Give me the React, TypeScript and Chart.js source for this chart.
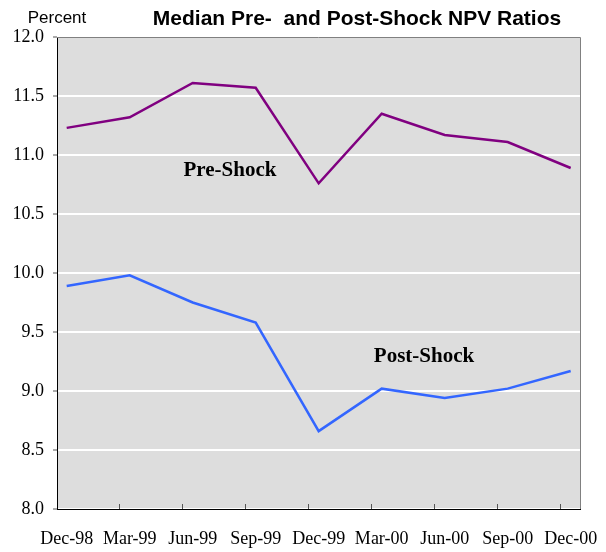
import React, { useEffect, useRef } from "react";
import { Chart, registerables } from "chart.js";

Chart.register(...registerables);

const categories = ["Dec-98", "Mar-99", "Jun-99", "Sep-99", "Dec-99", "Mar-00", "Jun-00", "Sep-00", "Dec-00"];
const preShock = [11.23, 11.32, 11.61, 11.57, 10.76, 11.35, 11.17, 11.11, 10.89];
const postShock = [9.89, 9.98, 9.75, 9.58, 8.66, 9.02, 8.94, 9.02, 9.17];
const yTicks = [8.0, 8.5, 9.0, 9.5, 10.0, 10.5, 11.0, 11.5, 12.0];

const W = 606;
const H = 552;

const decorPlugin = {
  id: "decor",
  beforeDraw(chart: any) {
    const { ctx, chartArea } = chart;
    ctx.save();
    ctx.fillStyle = "#DDDDDD";
    ctx.fillRect(chartArea.left, chartArea.top, chartArea.right - chartArea.left, chartArea.bottom - chartArea.top);
    ctx.restore();
  },
  afterDraw(chart: any) {
    const { ctx, chartArea, scales } = chart;
    const x = scales.x;
    ctx.save();
    ctx.strokeStyle = "#808080";
    ctx.lineWidth = 1;
    ctx.beginPath();
    ctx.moveTo(chartArea.left, chartArea.top + 0.5);
    ctx.lineTo(chartArea.right + 0.5, chartArea.top + 0.5);
    ctx.lineTo(chartArea.right + 0.5, chartArea.bottom);
    ctx.stroke();
    ctx.strokeStyle = "#555555";
    ctx.lineWidth = 1;
    for (let k = 1; k < categories.length; k++) {
      const px = Math.round(x.getPixelForValue(k - 0.167)) + 0.5;
      ctx.beginPath();
      ctx.moveTo(px, chartArea.bottom);
      ctx.lineTo(px, chartArea.bottom - 5);
      ctx.stroke();
    }
    ctx.fillStyle = "#000";
    ctx.textBaseline = "middle";
    ctx.textAlign = "center";
    ctx.font = "17px 'Liberation Sans', Arial, sans-serif";
    ctx.fillText("Percent", 57, 18);
    ctx.font = "bold 21px 'Liberation Sans', Arial, sans-serif";
    ctx.fillText("Median Pre-  and Post-Shock NPV Ratios", 357, 19);
    ctx.font = "bold 21px 'Liberation Serif', 'Times New Roman', serif";
    ctx.fillText("Pre-Shock", 230, 171);
    ctx.fillText("Post-Shock", 424, 357);
    ctx.restore();
  },
};

export default function App() {
  const ref = useRef<HTMLCanvasElement | null>(null);

  useEffect(() => {
    document.body.style.margin = "0";
    const canvas = ref.current;
    if (!canvas) return;
    const chart = new Chart(canvas, {
      type: "line",
      data: {
        datasets: [
          {
            label: "Pre-Shock",
            data: preShock.map((v, i) => ({ x: i, y: v })),
            borderColor: "#800080",
            borderWidth: 2.5,
            pointRadius: 0,
            tension: 0,
            fill: false,
          },
          {
            label: "Post-Shock",
            data: postShock.map((v, i) => ({ x: i, y: v })),
            borderColor: "#3366FF",
            borderWidth: 2.5,
            pointRadius: 0,
            tension: 0,
            fill: false,
          },
        ],
      },
      options: {
        animation: false,
        responsive: false,
        devicePixelRatio: 1,
        layout: { padding: { top: 37, right: 26, left: 0, bottom: 0 } },
        plugins: {
          legend: { display: false },
          title: { display: false },
          tooltip: { enabled: false },
        },
        scales: {
          x: {
            type: "linear",
            min: -0.154,
            max: 8.148,
            afterBuildTicks: (scale: any) => {
              scale.ticks = categories.map((_, i) => ({ value: i }));
            },
            afterFit: (scale: any) => {
              scale.height = H - 509;
              scale.paddingLeft = 0;
              scale.paddingRight = 0;
            },
            ticks: {
              autoSkip: false,
              maxRotation: 0,
              padding: 19,
              color: "#000",
              font: { family: "'Liberation Serif', 'Times New Roman', serif", size: 18 },
              callback: (v: any) => categories[Math.round(Number(v))] ?? "",
            },
            grid: { display: false, drawTicks: false },
            border: { display: true, color: "#000", width: 1 },
          },
          y: {
            type: "linear",
            min: 8,
            max: 12,
            afterBuildTicks: (scale: any) => {
              scale.ticks = yTicks.map((v) => ({ value: v }));
            },
            afterFit: (scale: any) => {
              scale.width = 57;
              scale.paddingTop = 0;
              scale.paddingBottom = 0;
            },
            ticks: {
              padding: 9,
              color: "#000",
              font: { family: "'Liberation Serif', 'Times New Roman', serif", size: 18 },
              callback: (v: any) => Number(v).toFixed(1),
            },
            grid: {
              color: "#FFFFFF",
              lineWidth: 2,
              drawTicks: true,
              tickLength: 4,
              tickColor: "#555555",
              tickWidth: 1,
            },
            border: { display: true, color: "#000", width: 1 },
          },
        },
      },
      plugins: [decorPlugin],
    });
    return () => chart.destroy();
  }, []);

  return (
    <div style={{ width: W, height: H }}>
      <canvas ref={ref} width={W} height={H} style={{ width: W, height: H, display: "block" }} />
    </div>
  );
}
